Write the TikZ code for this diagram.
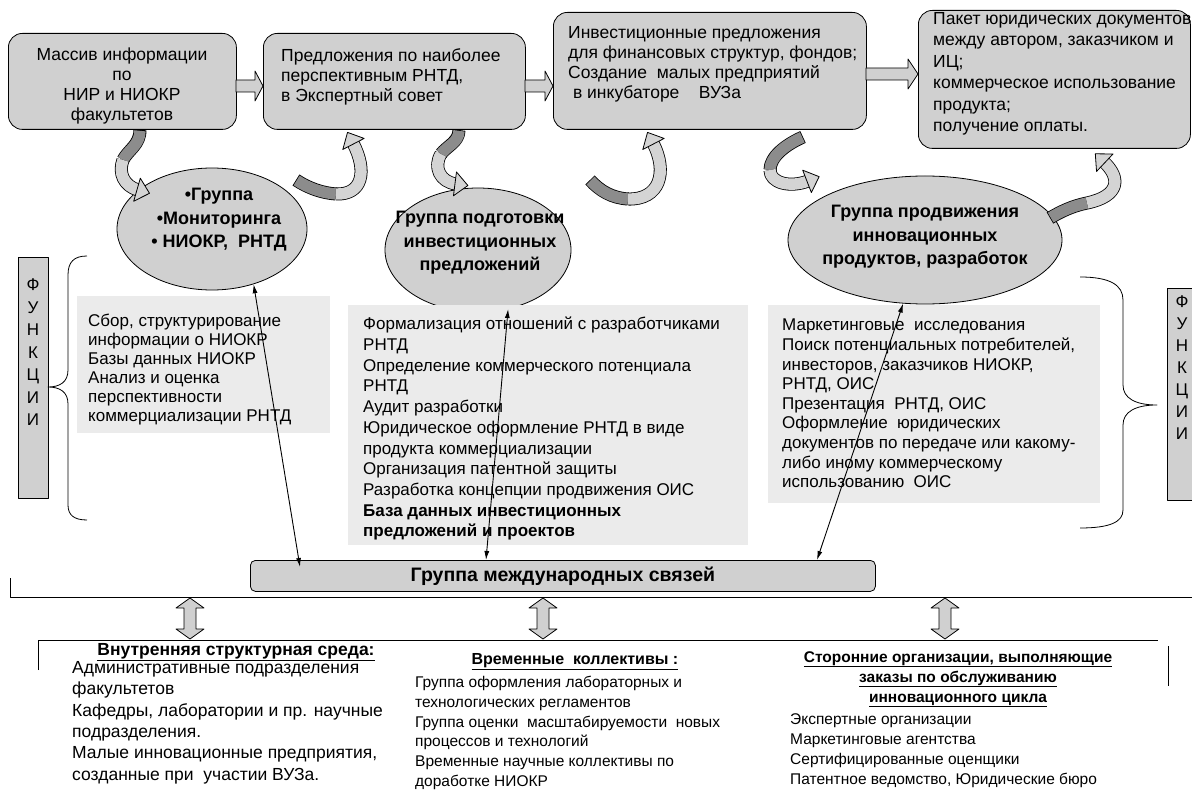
\documentclass[tikz,border=0pt]{standalone}
\usepackage{fontspec}
\setmainfont{Liberation Sans}
\usetikzlibrary{shapes.geometric,arrows.meta,decorations.markings,calc}
\definecolor{boxgray}{HTML}{D0D0D0}
\definecolor{panelgray}{HTML}{EBEBEB}
\definecolor{darkrib}{HTML}{8C8C8C}
\definecolor{lightrib}{HTML}{D4D4D4}
\newcommand\ribbon[2]{%
  \draw[line width=13pt] #1;
  \draw[line width=11.4pt, darkrib, shorten <=0.8pt] #1;
  \draw[line width=13pt] #2;
  \draw[line width=11.4pt, lightrib, postaction={decorate},
    decoration={markings, mark=at position 0.999 with {\filldraw[fill=lightrib, draw=black, line width=0.8pt] (-1,-12) -- (12,0) -- (-1,12) -- cycle;}}] #2;
}
\begin{document}
\begin{tikzpicture}[x=1pt,y=-1pt, line join=round,
  tbox/.style={draw, fill=boxgray, rounded corners=14pt, line width=0.8pt, anchor=north west, inner sep=0pt},
  grp/.style={ellipse, draw, fill=boxgray, line width=0.8pt, inner sep=0pt},
  grptxt/.style={inner sep=0pt, anchor=north, align=center, font=\fontsize{18}{23.5}\selectfont\bfseries},
  panel/.style={fill=panelgray, anchor=north west, inner sep=0pt},
  txt/.style={anchor=north west, inner sep=0pt, align=left, font=\fontsize{17}{20}\selectfont},
  ctxt/.style={anchor=north, inner sep=0pt, align=center, font=\fontsize{17}{20}\selectfont},
  blk/.style={draw, fill=boxgray, line width=0.8pt},
  thin/.style={{Latex[length=9pt,width=5pt]}-{Latex[length=9pt,width=5pt]}, line width=0.9pt},
  brace/.style={line width=0.8pt},
  fbar/.style={draw, fill=boxgray, line width=0.8pt, anchor=north west, inner sep=0pt}
]
\useasboundingbox (0,0) rectangle (1192,799);

% top boxes
\node[tbox, minimum width=228pt, minimum height=96pt] (b1) at (8,33) {};
\node[tbox, minimum width=262pt, minimum height=96pt] (b2) at (263,33) {};
\node[tbox, minimum width=313pt, minimum height=117pt] (b3) at (553,12) {};
\node[tbox, minimum width=272pt, minimum height=138pt] (b4) at (918,10) {};

\node[ctxt, font=\fontsize{17.5}{20}\selectfont] (b1t) at (122,48) {Массив информации\\по\\НИР и НИОКР\\факультетов};
\node[txt, font=\fontsize{17.5}{20}\selectfont] (b2t) at (281,48) {Предложения по наиболее\\перспективным РНТД,\\в Экспертный совет};
\node[txt, font=\fontsize{17.5}{20}\selectfont] (b3t) at (568,26) {Инвестиционные предложения\\для финансовых структур, фондов;\\Создание\ \ малых предприятий\\\ в инкубаторе\ \ \ \ ВУЗа};
\node[txt, font=\fontsize{17.5}{21.5}\selectfont] (b4t) at (933,12) {Пакет юридических документов\\между автором, заказчиком и\\ИЦ;\\коммерческое использование\\продукта;\\получение оплаты.};

% horizontal block arrows
\draw[blk] (236,80) -- (255,80) -- (255,71) -- (263,86) -- (255,101) -- (255,92) -- (236,92) -- cycle;
\draw[blk] (525,80) -- (545,80) -- (545,71) -- (553,86) -- (545,101) -- (545,92) -- (525,92) -- cycle;
\draw[blk] (866,68) -- (908,68) -- (908,59) -- (918,74) -- (908,89) -- (908,80) -- (866,80) -- cycle;

% ellipses
\node[grp, minimum width=190pt, minimum height=122pt] (e1) at (212,229) {};
\node[grp, minimum width=186pt, minimum height=124pt] (e2) at (478,250) {};
\node[grp, minimum width=274pt, minimum height=128pt] (e3) at (925,240) {};
\node[grptxt] (e1t) at (219,188) {•Группа\\•Мониторинга\\• НИОКР,\ \ РНТД};
\node[grptxt] (e2t) at (480,211) {Группа подготовки\\инвестиционных\\предложений};
\node[grptxt] (e3t) at (925,205) {Группа продвижения\\инновационных\\продуктов, разработок};

% curved ribbon arrows
\ribbon{(140,130) .. controls (140,145) and (128,150) .. (123,160)}{(123,160) .. controls (118,173) and (124,186) .. (138,190)}
\ribbon{(296,180) .. controls (308,188) and (322,193) .. (336,194)}{(336,194) .. controls (362,195) and (368,172) .. (353,143)}
\ribbon{(459,130) .. controls (459,142) and (447,146) .. (441,154)}{(441,154) .. controls (433,167) and (440,182) .. (456,184)}
\ribbon{(590,180) .. controls (600,191) and (612,198) .. (628,199)}{(628,199) .. controls (660,200) and (668,172) .. (653,143)}
\ribbon{(803,137) .. controls (785,145) and (770,157) .. (770,170)}{(770,170) .. controls (770,183) and (790,188) .. (808,181)}
\ribbon{(1050,218) .. controls (1060,212) and (1072,206) .. (1087,203)}{(1087,203) .. controls (1120,196) and (1121,178) .. (1104,162)}

% FUNCTIONS labels and braces
\node[fbar, minimum width=30pt, minimum height=241pt] (f1) at (18,257) {};
\node[ctxt, font=\fontsize{17}{22.5}\selectfont] (f1t) at (33,279) {Ф\\У\\Н\\К\\Ц\\И\\И};
\node[fbar, minimum width=40pt, minimum height=212pt] (f2) at (1167,288) {};
\node[ctxt, font=\fontsize{17}{22}\selectfont] (f2t) at (1182,296) {Ф\\У\\Н\\К\\Ц\\И\\И};
\draw[brace] (87,256) .. controls (74,256) and (68,262) .. (68,275) -- (68,370) .. controls (68,382) and (60,387) .. (48,387) .. controls (60,387) and (68,392) .. (68,404) -- (68,505) .. controls (68,515) and (74,520) .. (87,520);
\draw[brace] (1080,277) .. controls (1110,277) and (1123,285) .. (1123,300) -- (1123,385) .. controls (1123,398) and (1135,405) .. (1157,405) .. controls (1135,405) and (1123,412) .. (1123,425) -- (1123,510) .. controls (1123,522) and (1110,528) .. (1080,528);

% panels
\node[panel, minimum width=253pt, minimum height=137pt] (p1) at (77,296) {};
\node[txt, font=\fontsize{17}{19}\selectfont] (p1t) at (88,314) {Сбор, структурирование\\информации о НИОКР\\Базы данных НИОКР\\Анализ и оценка\\перспективности\\коммерциализации РНТД};
\node[panel, minimum width=400pt, minimum height=240pt] (p2) at (348,305) {};
\node[txt, font=\fontsize{17}{20.7}\selectfont] (p2t) at (363,317) {Формализация отношений с разработчиками\\РНТД\\Определение коммерческого потенциала\\РНТД\\Аудит разработки\\Юридическое оформление РНТД в виде\\продукта коммерциализации\\Организация патентной защиты\\Разработка концепции продвижения ОИС\\\textbf{База данных инвестиционных}\\\textbf{предложений и проектов}};
\node[panel, minimum width=332pt, minimum height=198pt] (p3) at (768,305) {};
\node[txt, font=\fontsize{17}{19.6}\selectfont] (p3t) at (782,319) {Маркетинговые\ \ исследования\\Поиск потенциальных потребителей,\\инвесторов, заказчиков НИОКР,\\РНТД, ОИС\\Презентация\ \ РНТД, ОИС\\Оформление\ \ юридических\\документов по передаче или какому-\\либо иному коммерческому\\использованию\ \ ОИС};

% international bar
\node[fbar, rounded corners=5pt, minimum width=625pt, minimum height=31pt] (bar) at (250,560) {};
\node[inner sep=0pt, font=\fontsize{19.5}{22}\selectfont\bfseries] (bart) at (bar.center) {Группа международных связей};

% thin double arrows
\draw[thin] (e1.-53) -- ($(bar.north west)+(50,7)$);
\draw[thin] (e2.-63) -- ($(bar.north west)+(236,0)$);
\draw[thin] (e3.-109) -- ($(bar.north west)+(567,0)$);

% separator lines
\coordinate (l1a) at (10,578);
\coordinate (l1b) at (10,597);
\coordinate (l1c) at (1200,597);
\draw[line width=0.8pt] (l1a) -- (l1b) -- (l1c);
\coordinate (l2a) at (38,670);
\coordinate (l2b) at (38,640);
\coordinate (l2c) at (1158,640);
\draw[line width=0.8pt] (l2a) -- (l2b) -- (l2c);
\coordinate (l3a) at (1168,646);
\coordinate (l3b) at (1168,686);
\draw[line width=0.8pt] (l3a) -- (l3b);

% vertical block double arrows
\foreach \x in {190,543,945}{
  \draw[blk] (\x,598) -- (\x+14,608) -- (\x+6,608) -- (\x+6,629) -- (\x+14,629) -- (\x,639) -- (\x-14,629) -- (\x-6,629) -- (\x-6,608) -- (\x-14,608) -- cycle;
}

% bottom columns
\node[ctxt, font=\fontsize{17.5}{20}\selectfont\bfseries] (c1h) at (236,643) {\underline{Внутренняя структурная среда:}};
\node[txt, font=\fontsize{17.5}{21.4}\selectfont] (c1t) at (72,661) {Административные подразделения\\факультетов\\Кафедры, лаборатории и пр. научные\\подразделения.\\Малые инновационные предприятия,\\созданные при\ \ участии ВУЗа.};
\node[ctxt, font=\fontsize{16}{20}\selectfont\bfseries] (c2h) at (575,653) {\underline{Временные\ \ коллективы :}};
\node[txt, font=\fontsize{15.5}{19.8}\selectfont] (c2t) at (415,676) {Группа оформления лабораторных и\\технологических регламентов\\Группа оценки\ \ масштабируемости\ \ новых\\процессов и технологий\\Временные научные коллективы по\\доработке НИОКР};
\node[ctxt, font=\fontsize{15.5}{20}\selectfont\bfseries] (c3h) at (958,651) {\underline{Сторонние организации, выполняющие}\\\underline{заказы по обслуживанию}\\\underline{инновационного цикла}};
\node[txt, font=\fontsize{15.5}{20.3}\selectfont] (c3t) at (790,713) {Экспертные организации\\Маркетинговые агентства\\Сертифицированные оценщики\\Патентное ведомство, Юридические бюро};
\end{tikzpicture}
\end{document}
